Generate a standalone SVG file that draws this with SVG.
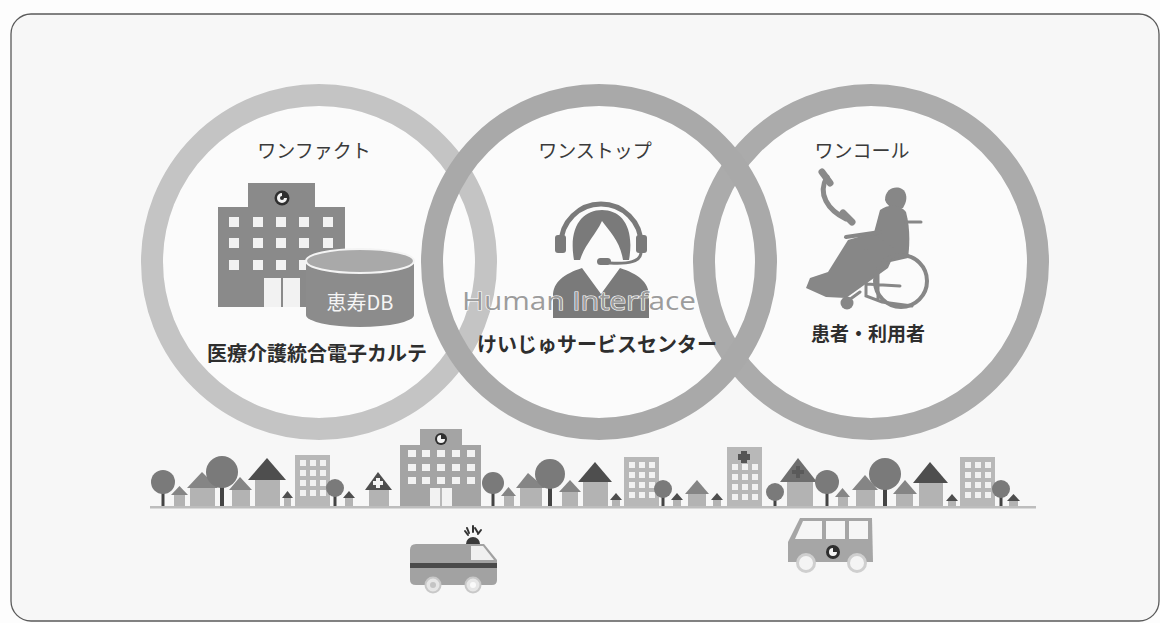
<svg xmlns="http://www.w3.org/2000/svg" width="1160" height="623" viewBox="0 0 1160 623">
  <defs>
    <style>
      .jp { font-family: "Noto Sans CJK JP", "Noto Sans", sans-serif; fill: #3a3a3a; text-anchor: middle; }
      .title { font-size: 19px; font-weight: 400; }
      .label { font-size: 20px; font-weight: 700; fill: #2e2e2e; }
      .ring { fill: none; stroke-width: 22; }
      .bld { fill: #8a8a8a; }
      .win { fill: #f2f2f2; }
      .roofD { fill: #4e4e4e; }
      .roofM { fill: #858585; }
      .wall { fill: #b3b3b3; }
      .apt { fill: #b8b8b8; }
      .canopy { fill: #7a7a7a; }
      .trunk { fill: #444; }
      .icon { fill: #878787; }
      .chair { fill: none; stroke: #878787; stroke-width: 3; stroke-linecap: round; }
    </style>
  </defs>

  <!-- page and frame -->
  <rect x="0" y="0" width="1160" height="623" fill="#fdfdfd"/>
  <rect x="11" y="14" width="1148" height="607" rx="20" ry="20" fill="#f7f7f7" stroke="#5a5a5a" stroke-width="1.3"/>

  <!-- circle interiors -->
  <circle cx="319" cy="262" r="156" fill="#fbfbfb"/>
  <circle cx="599" cy="262" r="156" fill="#fbfbfb"/>
  <circle cx="871" cy="262" r="156" fill="#fbfbfb"/>

  <!-- rings -->
  <g id="rings">
    <circle class="ring" cx="319" cy="262" r="167" stroke="#c4c4c4"/>
    <circle class="ring" cx="871" cy="262" r="167" stroke="#ababab"/>
    <circle class="ring" cx="599" cy="262" r="167" stroke="#a9a9a9"/>
  </g>

  <!-- left: one fact -->
  <g id="one-fact">
    <text class="jp title" x="314" y="158">ワンファクト</text>
    <!-- hospital building -->
    <rect class="bld" x="248" y="183" width="67" height="26"/>
    <rect class="bld" x="218" y="207" width="127" height="100"/>
    <circle cx="282" cy="198" r="7.5" fill="#2f2f2f"/>
    <path d="M282,193 a5,5 0 1 0 5,5 l-5,0 z" fill="#f4f4f4"/>
    <circle cx="282" cy="198" r="2" fill="#2f2f2f"/>
    <g class="win">
      <rect x="229" y="217" width="10" height="10"/><rect x="253" y="217" width="10" height="10"/><rect x="276" y="217" width="10" height="10"/><rect x="299" y="217" width="10" height="10"/><rect x="323" y="217" width="10" height="10"/>
      <rect x="229" y="238" width="10" height="10"/><rect x="253" y="238" width="10" height="10"/><rect x="276" y="238" width="10" height="10"/><rect x="299" y="238" width="10" height="10"/><rect x="323" y="238" width="10" height="10"/>
      <rect x="229" y="260" width="10" height="10"/><rect x="253" y="260" width="10" height="10"/><rect x="276" y="260" width="10" height="10"/><rect x="299" y="260" width="10" height="10"/>
      <rect x="264" y="278" width="36" height="29"/>
    </g>
    <line x1="282" y1="278" x2="282" y2="307" stroke="#8a8a8a" stroke-width="2"/>
    <!-- database cylinder -->
    <path d="M306,261 L306,315 A54,12 0 0 0 414,315 L414,261 Z" fill="#8c8c8c"/>
    <ellipse cx="360" cy="261" rx="54" ry="12" fill="#a9a9a9" stroke="#f4f4f4" stroke-width="2"/>
    <text x="360" y="310" font-family="'Noto Sans CJK JP', 'Noto Sans', sans-serif" font-size="20" fill="#f5f5f5" text-anchor="middle">恵寿DB</text>
    <text class="jp label" x="317" y="361">医療介護統合電子カルテ</text>
  </g>

  <!-- middle: one stop -->
  <g id="one-stop">
    <text class="jp title" x="595" y="158">ワンストップ</text>
    <!-- operator with headset -->
    <path d="M561,244 A40,40 0 0 1 641,244" fill="none" stroke="#7a7a7a" stroke-width="5"/>
    <rect x="555" y="235" width="11" height="18" rx="3" fill="#7a7a7a"/>
    <rect x="636" y="235" width="11" height="18" rx="3" fill="#7a7a7a"/>
    <path d="M574,260 C568,226 583,210 602,210 C621,210 635,226 629,260 L623,260 C620,241 610,232 602,221 C595,236 585,244 580,260 Z" fill="#7a7a7a"/>
    <path d="M641,252 C641,262 628,264 610,263" fill="none" stroke="#7a7a7a" stroke-width="3"/>
    <rect x="597" y="258" width="14" height="7" rx="3.5" fill="#7a7a7a"/>
    <path d="M553,318 L553,296 C553,282 564,274 582,268 L601,294 L620,268 C638,274 649,282 649,296 L649,318 Z" fill="#7a7a7a"/>
    <path d="M588,270 L601,292 L614,270 L608,268 L601,280 L594,268 Z" fill="#fbfbfb"/>
    <text x="579" y="310" font-family="'Open Sans', 'Noto Sans', sans-serif" font-size="26" fill="#9c9c9c" stroke="#ffffff" stroke-width="1.2" paint-order="stroke" text-anchor="middle" textLength="234" lengthAdjust="spacingAndGlyphs">Human Interface</text>
    <text class="jp label" x="597" y="352">けいじゅサービスセンター</text>
  </g>

  <!-- right: one call -->
  <g id="one-call">
    <text class="jp title" x="862" y="158">ワンコール</text>
    <!-- telephone handset -->
    <path d="M827,177 C817,194 828,210 846,219" fill="none" stroke="#8a8a8a" stroke-width="5" stroke-linecap="round"/>
    <path d="M822,172 L830,183" stroke="#8a8a8a" stroke-width="7" stroke-linecap="round"/>
    <path d="M843,213 L852,222" stroke="#8a8a8a" stroke-width="7" stroke-linecap="round"/>
    <!-- person seated in wheelchair -->
    <g class="icon">
      <path d="M885,200 C885,190 893,186 900,188 C906,190 908,197 905,204 L903,208 C896,210 888,208 885,200 Z"/>
      <path d="M880,210 C888,204 900,204 906,212 C910,226 910,244 908,258 L886,263 L872,240 Z"/>
      <path d="M848,240 L872,233 L896,250 L888,268 L846,298 L826,297 L806,288 L810,278 L828,272 Z"/>
    </g>
    <path class="chair" d="M906,222 L921,222"/>
    <path class="chair" d="M846,237 L880,232" style="stroke-width:4"/>
    <circle cx="901" cy="281" r="26" fill="none" stroke="#878787" stroke-width="4"/>
    <path class="chair" d="M866,250 L866,296 L882,302 L912,306 M866,284 L900,286 M878,270 L878,300 M860,292 L849,300"/>
    <circle class="icon" cx="847" cy="303" r="6.5"/>
    <text class="jp label" x="868" y="341" style="font-size:19px">患者・利用者</text>
  </g>

  <!-- town skyline -->
  <g id="town">
    <!-- apartment blocks -->
    <g>
      <rect class="apt" x="295" y="455" width="35" height="52"/>
      <rect class="apt" x="624" y="457" width="35" height="50"/>
      <rect class="apt" x="960" y="457" width="35" height="50"/>
      <rect class="apt" x="727" y="447" width="35" height="60"/>
      <g class="win">
        <rect x="300" y="460" width="6" height="6"/><rect x="310" y="460" width="6" height="6"/><rect x="320" y="460" width="6" height="6"/>
        <rect x="300" y="470" width="6" height="6"/><rect x="310" y="470" width="6" height="6"/><rect x="320" y="470" width="6" height="6"/>
        <rect x="300" y="480" width="6" height="6"/><rect x="310" y="480" width="6" height="6"/><rect x="320" y="480" width="6" height="6"/>
        <rect x="300" y="490" width="6" height="6"/><rect x="310" y="490" width="6" height="6"/><rect x="320" y="490" width="6" height="6"/>

        <rect x="629" y="462" width="6" height="6"/><rect x="639" y="462" width="6" height="6"/><rect x="649" y="462" width="6" height="6"/>
        <rect x="629" y="472" width="6" height="6"/><rect x="639" y="472" width="6" height="6"/><rect x="649" y="472" width="6" height="6"/>
        <rect x="629" y="482" width="6" height="6"/><rect x="639" y="482" width="6" height="6"/><rect x="649" y="482" width="6" height="6"/>
        <rect x="629" y="492" width="6" height="6"/><rect x="639" y="492" width="6" height="6"/><rect x="649" y="492" width="6" height="6"/>

        <rect x="965" y="462" width="6" height="6"/><rect x="975" y="462" width="6" height="6"/><rect x="985" y="462" width="6" height="6"/>
        <rect x="965" y="472" width="6" height="6"/><rect x="975" y="472" width="6" height="6"/><rect x="985" y="472" width="6" height="6"/>
        <rect x="965" y="482" width="6" height="6"/><rect x="975" y="482" width="6" height="6"/><rect x="985" y="482" width="6" height="6"/>
        <rect x="965" y="492" width="6" height="6"/><rect x="975" y="492" width="6" height="6"/><rect x="985" y="492" width="6" height="6"/>

        <rect x="732" y="464" width="6" height="6"/><rect x="742" y="464" width="6" height="6"/><rect x="752" y="464" width="6" height="6"/>
        <rect x="732" y="474" width="6" height="6"/><rect x="742" y="474" width="6" height="6"/><rect x="752" y="474" width="6" height="6"/>
        <rect x="732" y="484" width="6" height="6"/><rect x="742" y="484" width="6" height="6"/><rect x="752" y="484" width="6" height="6"/>
        <rect x="732" y="494" width="6" height="6"/><rect x="742" y="494" width="6" height="6"/><rect x="752" y="494" width="6" height="6"/>
      </g>
      <path d="M741,451 h6 v3 h3 v6 h-3 v3 h-6 v-3 h-3 v-6 h3 z" fill="#555"/>
    </g>

    <!-- central hospital -->
    <rect x="420" y="429" width="42" height="18" fill="#a4a4a4"/>
    <rect x="400" y="445" width="81" height="62" fill="#a4a4a4"/>
    <circle cx="441" cy="439" r="6" fill="#2f2f2f"/>
    <path d="M441,435 a4,4 0 1 0 4,4 l-4,0 z" fill="#f4f4f4"/>
    <g class="win">
      <rect x="408" y="450" width="8" height="7"/><rect x="422" y="450" width="8" height="7"/><rect x="437" y="450" width="8" height="7"/><rect x="452" y="450" width="8" height="7"/><rect x="467" y="450" width="8" height="7"/>
      <rect x="408" y="464" width="8" height="7"/><rect x="422" y="464" width="8" height="7"/><rect x="437" y="464" width="8" height="7"/><rect x="452" y="464" width="8" height="7"/><rect x="467" y="464" width="8" height="7"/>
      <rect x="408" y="477" width="8" height="7"/><rect x="422" y="477" width="8" height="7"/><rect x="437" y="477" width="8" height="7"/><rect x="452" y="477" width="8" height="7"/><rect x="467" y="477" width="8" height="7"/>
      <rect x="430" y="488" width="22" height="19"/>
    </g>
    <line x1="441" y1="488" x2="441" y2="507" stroke="#a4a4a4" stroke-width="1.5"/>

    <!-- large houses, dark roofs -->
    <rect class="wall" x="255" y="480" width="25" height="27"/>
    <polygon class="roofD" points="248,480 267,458 286,480"/>
    <rect class="wall" x="583" y="482" width="25" height="25"/>
    <polygon class="roofD" points="578,482 595,462 612,482"/>
    <rect class="wall" x="919" y="483" width="24" height="24"/>
    <polygon class="roofD" points="913,483 930,462 948,483"/>

    <!-- clinic with cross on roof -->
    <rect class="wall" x="369" y="490" width="20" height="17"/>
    <polygon class="roofD" points="365,490 378,472 392,490"/>
    <path d="M376,478 h4 v3 h3 v4 h-3 v3 h-4 v-3 h-3 v-4 h3 z" fill="#f2f2f2"/>
    <rect class="wall" x="787" y="482" width="26" height="25"/>
    <polygon fill="#6e6e6e" points="780,482 798,458 817,482"/>
    <path d="M796,466 h4 v4 h4 v4 h-4 v4 h-4 v-4 h-4 v-4 h4 z" fill="#5a5a5a"/>

    <!-- medium houses -->
    <rect class="wall" x="190" y="488" width="25" height="19"/>
    <polygon class="roofM" points="187,488 202,472 218,488"/>
    <rect class="wall" x="232" y="490" width="18" height="17"/>
    <polygon class="roofM" points="229,490 240,477 252,490"/>
    <rect class="wall" x="520" y="488" width="22" height="19"/>
    <polygon class="roofM" points="516,488 528,473 545,488"/>
    <rect class="wall" x="562" y="492" width="16" height="15"/>
    <polygon class="roofM" points="559,492 570,480 581,492"/>
    <rect class="wall" x="688" y="494" width="18" height="13"/>
    <polygon class="roofM" points="685,494 697,480 709,494"/>
    <rect class="wall" x="856" y="490" width="19" height="17"/>
    <polygon class="roofM" points="852,490 865,475 878,490"/>
    <rect class="wall" x="896" y="494" width="17" height="13"/>
    <polygon class="roofM" points="893,494 905,480 917,494"/>

    <!-- tiny houses -->
    <g>
      <rect class="wall" x="174" y="495" width="11" height="12"/><polygon class="roofM" points="171,495 179.5,486 188,495"/>
      <rect class="wall" x="284" y="498" width="7" height="9"/><polygon class="roofD" points="282,498 287.5,491 293,498"/>
      <rect class="wall" x="345" y="498" width="8" height="9"/><polygon class="roofD" points="343,498 349,491 355,498"/>
      <rect class="wall" x="504" y="496" width="10" height="11"/><polygon class="roofM" points="501,496 508.5,487 516,496"/>
      <rect class="wall" x="612" y="500" width="8" height="7"/><polygon class="roofD" points="610,500 616,493 622,500"/>
      <rect class="wall" x="673" y="500" width="8" height="7"/><polygon class="roofD" points="671,500 677,493 683,500"/>
      <rect class="wall" x="713" y="500" width="8" height="7"/><polygon class="roofD" points="711,500 717,493 723,500"/>
      <rect class="wall" x="838" y="497" width="10" height="10"/><polygon class="roofM" points="835,497 842.5,488 850,497"/>
      <rect class="wall" x="948" y="501" width="8" height="6"/><polygon class="roofD" points="946,501 952,494 958,501"/>
      <rect class="wall" x="1009" y="501" width="9" height="6"/><polygon class="roofD" points="1007,501 1013.5,494 1020,501"/>
    </g>

    <!-- trees -->
    <g>
      <rect class="trunk" x="161.5" y="482" width="3" height="25"/><circle class="canopy" cx="163" cy="482" r="12"/>
      <rect class="trunk" x="220" y="476" width="4" height="31"/><circle class="canopy" cx="222" cy="472" r="16"/>
      <rect class="trunk" x="333.5" y="488" width="3" height="19"/><circle class="canopy" cx="335" cy="488" r="9"/>
      <rect class="trunk" x="491.5" y="483" width="3" height="24"/><circle class="canopy" cx="493" cy="483" r="11"/>
      <rect class="trunk" x="548" y="478" width="4" height="29"/><circle class="canopy" cx="550" cy="474" r="15"/>
      <rect class="trunk" x="661.5" y="490" width="3" height="17"/><circle class="canopy" cx="663" cy="489" r="9"/>
      <rect class="trunk" x="773.5" y="493" width="3" height="14"/><circle class="canopy" cx="775" cy="492" r="9"/>
      <rect class="trunk" x="825.5" y="484" width="3" height="23"/><circle class="canopy" cx="827" cy="482" r="12"/>
      <rect class="trunk" x="883" y="478" width="4" height="29"/><circle class="canopy" cx="885" cy="474" r="16"/>
      <rect class="trunk" x="999.5" y="490" width="3" height="17"/><circle class="canopy" cx="1001" cy="489" r="9"/>
    </g>

    <!-- ground line -->
    <rect x="150" y="506" width="886" height="2.5" fill="#bdbdbd"/>
  </g>

  <!-- ambulance -->
  <g id="ambulance">
    <path d="M475,528 L478,533 M473,526 L473,532 M467,528 L469,533 M481,530 L478,534 M465,531 L468,535" stroke="#333" stroke-width="2" stroke-linecap="round"/>
    <path d="M466,544 A7,7 0 0 1 480,544 Z" fill="#3a3a3a"/>
    <path d="M416,544 L484,544 L497,560 L497,580 Q497,585 492,585 L416,585 Q410,585 410,580 L410,550 Q410,544 416,544 Z" fill="#a2a2a2"/>
    <path d="M471,546 L483,546 L494,560 L471,560 Z" fill="#f0f0f0"/>
    <rect x="410" y="563" width="87" height="5" fill="#4a4a4a"/>
    <circle cx="433" cy="585" r="7.5" fill="#e6e6e6" stroke="#c8c8c8" stroke-width="2"/>
    <circle cx="473" cy="585" r="7.5" fill="#e6e6e6" stroke="#c8c8c8" stroke-width="2"/>
    <circle cx="433" cy="585" r="3" fill="#c4c4c4"/>
    <circle cx="473" cy="585" r="3" fill="#fafafa"/>
  </g>

  <!-- patient transport van -->
  <g id="van">
    <path d="M800,518 L872,518 L873,562 L788,562 L788,542 Z" fill="#a6a6a6"/>
    <path d="M803,521 L822,521 L822,539 L795,539 Z" fill="#f6f6f6"/>
    <rect x="826" y="521" width="19" height="18" fill="#f6f6f6"/>
    <rect x="849" y="521" width="19" height="18" fill="#f6f6f6"/>
    <circle cx="833" cy="552" r="7" fill="#2f2f2f"/>
    <path d="M833,548 a4,4 0 1 0 4,4 l-4,0 z" fill="#f4f4f4"/>
    <circle cx="806" cy="563" r="8.5" fill="#f4f4f4" stroke="#cfcfcf" stroke-width="3"/>
    <circle cx="857" cy="563" r="8.5" fill="#f4f4f4" stroke="#cfcfcf" stroke-width="3"/>
  </g>
</svg>
